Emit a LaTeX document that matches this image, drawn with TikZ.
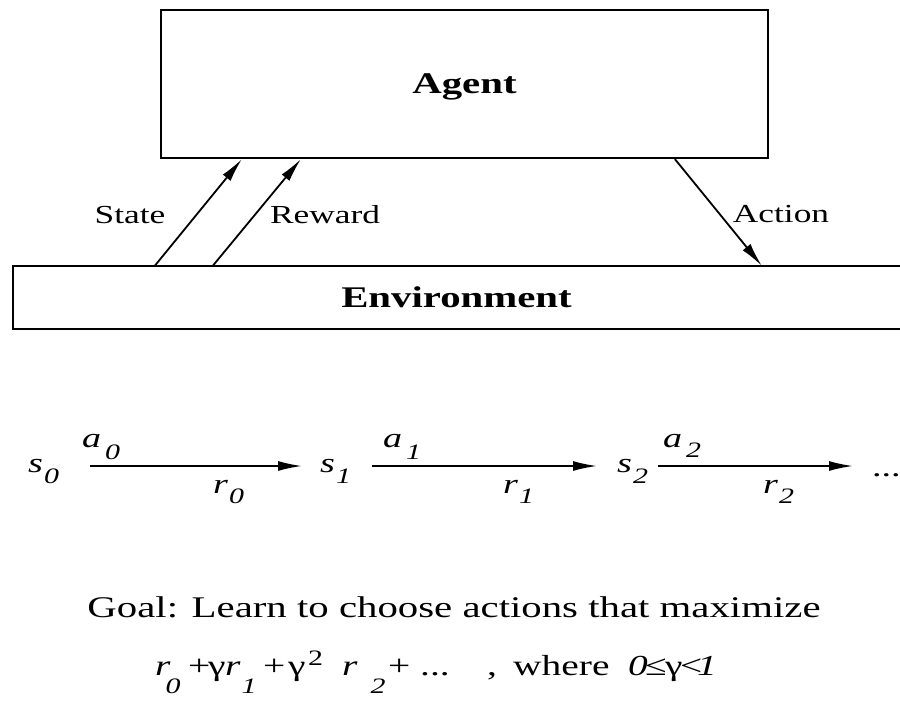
\documentclass[tikz,border=0pt]{standalone}
\usepackage{fontspec}
\setmainfont{Liberation Serif}[FakeStretch=1.36]
\usetikzlibrary{arrows.meta,positioning}

\newcommand{\lowsub}[2][11pt]{\hspace{1pt}\raisebox{-#1}{\fontsize{22}{22}\selectfont\itshape #2}}
\newcommand{\slot}[2]{\makebox[#1][l]{#2}}

\begin{document}
\begin{tikzpicture}[x=1pt,y=-1pt,
box/.style={draw,line width=2.2pt,inner sep=0pt},
title/.style={font=\fontsize{30}{36}\selectfont\bfseries,text depth=0pt},
tag/.style={font=\fontsize{26}{30}\selectfont,anchor=base,inner sep=0pt},
sym/.style={font=\fontsize{28}{32}\selectfont\itshape,anchor=base west,inner sep=0pt},
link/.style={-{Latex[length=24pt,width=10pt]},line width=1.8pt}]
\useasboundingbox (0,0) rectangle (900,728);
% agent and environment
\node[box,title,minimum width=607pt,minimum height=148pt](agent) at (464.5,84){Agent};
\node[title,inner sep=0pt,minimum width=887pt,minimum height=63pt](env) at (456.5,297.5){Environment};
\draw[line width=2.2pt](env.north east)--(env.north west)--(env.south west)--(env.south east);
\draw[link]([xshift=142pt]env.north west)--([xshift=82pt]agent.south west);
\draw[link]([xshift=200pt]env.north west)--([xshift=141pt]agent.south west);
\draw[link]([xshift=515pt]agent.south west)--([xshift=749pt]env.north west);
\node[tag](state) at (130,223){State};
\node[tag](reward) at (325,223){Reward};
\node[tag](action) at (781,222){Action};
% trajectory
\node[sym](s0) at (28,472){s\lowsub{0}};
\node[sym](s1) at (320,472){s\lowsub{1}};
\node[sym](s2) at (617,472){s\lowsub{2}};
\node[sym,font=\fontsize{28}{32}\selectfont](dots) at (872,476){...};
\draw[link]([xshift=62pt,yshift=6pt]s0.base west)--([xshift=-18pt,yshift=6pt]s1.base west);
\draw[link]([xshift=52pt,yshift=6pt]s1.base west)--([xshift=-20pt,yshift=6pt]s2.base west);
\draw[link]([xshift=41pt,yshift=6pt]s2.base west)--([xshift=-19pt,yshift=10pt]dots.base west);
\node[sym](a0) at (82,447){a\lowsub[12pt]{\hspace{3pt}0}};
\node[sym](a1) at (383,447){a\lowsub[12pt]{\hspace{3pt}1}};
\node[sym](a2) at (663,447){a\lowsub[10pt]{\hspace{3pt}2}};
\node[sym](r0) at (213,493){r\lowsub[10pt]{0}};
\node[sym](r1) at (503,493){r\lowsub[10pt]{1}};
\node[sym](r2) at (763,493){r\lowsub[10pt]{2}};
% goal
\node[tag,font=\fontsize{30}{36}\selectfont](goal) at (454,617){Goal: Learn to choose actions that maximize};
\node[sym,font=\fontsize{29}{34}\selectfont](ret) at (155,675){\slot{33pt}{\textit{r}\hspace{-6pt}\lowsub[18pt]{0}}\slot{20pt}{+}\slot{17pt}{γ}\slot{38pt}{\textit{r}\lowsub[18pt]{1}}\slot{25pt}{+}\slot{20pt}{γ}\slot{34pt}{\raisebox{10pt}{\fontsize{22}{22}\selectfont 2}}\slot{46pt}{\textit{r}\hspace{12pt}\lowsub[18pt]{2}}\slot{32pt}{+}\slot{67pt}{...}\slot{26pt}{,}\slot{115pt}{where}\slot{17pt}{\textit{0}}\slot{20pt}{≤}\slot{15pt}{γ}\slot{17pt}{<}\textit{1}};
\end{tikzpicture}
\end{document}
